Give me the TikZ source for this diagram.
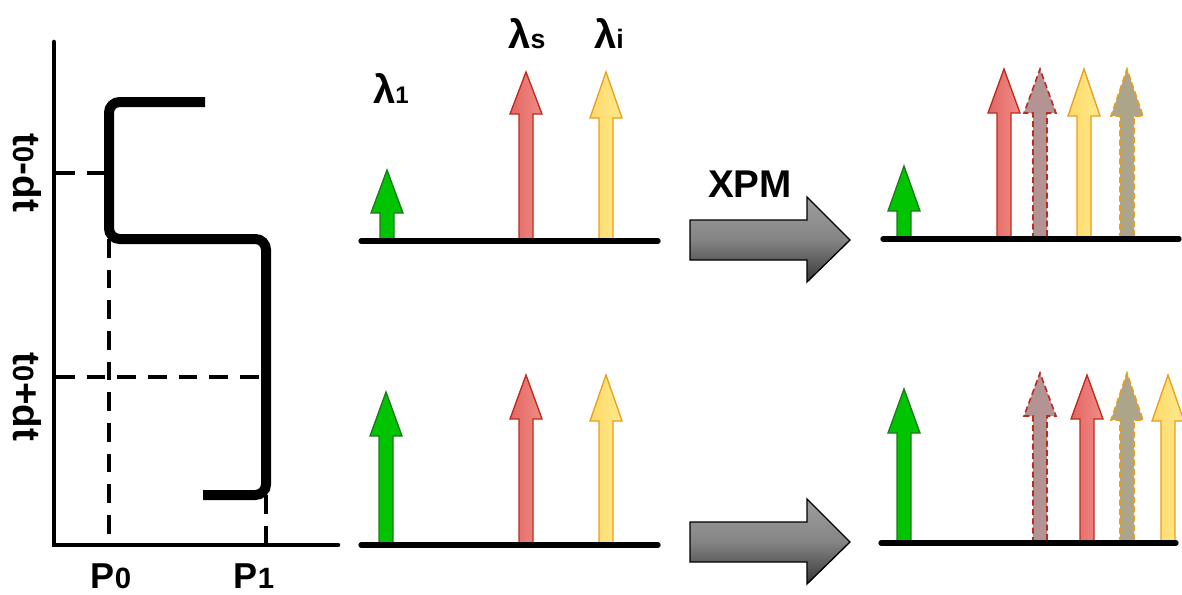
\documentclass[tikz,border=0pt]{standalone}
\usepackage{fontspec}
\setmainfont{Liberation Sans}
\definecolor{grnF}{HTML}{00C400}
\definecolor{grnD}{HTML}{1D7A1D}
\definecolor{redL}{HTML}{E36763}
\definecolor{redR}{HTML}{F08C87}
\definecolor{redD}{HTML}{BE2A1E}
\definecolor{yelL}{HTML}{FFD968}
\definecolor{yelR}{HTML}{FFEA8E}
\definecolor{yelD}{HTML}{E89E1E}
\definecolor{mauveF}{HTML}{B39393}
\definecolor{tanF}{HTML}{ACA58A}
\begin{document}
\begin{tikzpicture}[x=0.75pt,y=-0.75pt,
  axisline/.style={line width=3.4pt,line cap=round},
  curveline/.style={line width=7.5pt,rounded corners=8pt},
  guide/.style={line width=2.4pt,dash pattern=on 14pt off 9pt},
  baseln/.style={line width=4pt,line cap=round},
  lbl/.style={font=\bfseries\fontsize{23}{26}\selectfont,inner sep=0pt},
  grn/.style={fill=grnF,draw=grnD,line width=1pt},
  red/.style={left color=redL,right color=redR,draw=redD,line width=1pt},
  yel/.style={left color=yelL,right color=yelR,draw=yelD,line width=1pt},
  redd/.style={fill=mauveF,draw=redD,line width=1.2pt,dash pattern=on 4.5pt off 2.5pt},
  yeld/.style={fill=tanF,draw=yelD,line width=1.2pt,dash pattern=on 4.5pt off 2.5pt},
  bigarrow/.style={top color=black!38,bottom color=black!78,middle color=black!48,draw=black,line width=1pt}]
\useasboundingbox (0,0) rectangle (1182,594);
\newcommand\varrow[5]{%
  \draw[#1] ({#2-7},#3) -- ({#2-7},#5) -- ({#2-16},#5) -- (#2,#4) -- ({#2+16},#5) -- ({#2+7},#5) -- ({#2+7},#3) -- cycle;}
\newcommand\garrow[1]{%
  \draw[bigarrow] (690,{#1-20}) -- (807,{#1-20}) -- (807,{#1-43}) -- (850,#1) -- (807,{#1+42}) -- (807,{#1+20}) -- (690,{#1+20}) -- cycle;}

% ---------- left panel ----------
\coordinate (O) at (54,545);
\coordinate (ytop) at (54,42);
\coordinate (xend) at (338,545);
\draw[axisline] (ytop) -- (O) -- (xend);
\coordinate (c1) at (205,102);
\coordinate (c2) at (109,102);
\coordinate (c3) at (109,239);
\coordinate (c4) at (266,239);
\coordinate (c5) at (266,495);
\coordinate (c6) at (203,495);
\draw[guide] (56,173) -- (109,173);
\draw[guide] (c3) -- (109,545);
\draw[guide] (56,377) -- (266,377);
\draw[guide] (c5) -- (266,545);
\draw[curveline] (c1) -- (c2) -- (c3) -- (c4) -- (c5) -- (c6);
\node[lbl,font=\bfseries\fontsize{29}{32}\selectfont,rotate=-90] (tm) at (27,173) {t{\fontsize{22}{24}\selectfont 0}-dt};
\node[lbl,font=\bfseries\fontsize{29}{32}\selectfont,rotate=-90] (tp) at (27,397) {t{\fontsize{22}{24}\selectfont 0}+dt};
\node[lbl,font=\bfseries\fontsize{27}{30}\selectfont,anchor=base] (p0) at (111,588) {P{\fontsize{22}{24}\selectfont 0}};
\node[lbl,font=\bfseries\fontsize{27}{30}\selectfont,anchor=base] (p1) at (254,588) {P{\fontsize{22}{24}\selectfont 1}};

% ---------- middle panel ----------
\varrow{grn}{387}{240}{170}{213}
\varrow{red}{526}{240}{72}{114}
\varrow{yel}{606}{240}{72}{118}
\coordinate (b1l) at (361,241);
\coordinate (b1r) at (658,241);
\draw[baseln] (b1l) -- (b1r);
\node[lbl,font=\bfseries\fontsize{30}{32}\selectfont,anchor=base] (l1) at (391,103) {λ{\fontsize{18}{20}\selectfont 1}};
\node[lbl,font=\bfseries\fontsize{30}{32}\selectfont,anchor=base] (ls) at (527,48) {λ{\fontsize{20}{22}\selectfont s}};
\node[lbl,font=\bfseries\fontsize{30}{32}\selectfont,anchor=base] (li) at (609,48) {λ{\fontsize{20}{22}\selectfont i}};

\varrow{grn}{386}{544}{392}{436}
\varrow{red}{526}{544}{375}{419}
\varrow{yel}{606}{544}{375}{421}
\coordinate (b2l) at (361,545);
\coordinate (b2r) at (658,545);
\draw[baseln] (b2l) -- (b2r);

% ---------- XPM arrows ----------
\garrow{240}
\garrow{542}
\node[lbl,font=\bfseries\fontsize{29}{32}\selectfont] (xpm) at (750,184) {XPM};

% ---------- right panel ----------
\varrow{grn}{904}{239}{166}{211}
\varrow{red}{1004}{239}{69}{113}
\varrow{redd}{1040}{239}{69}{113}
\varrow{yel}{1084}{239}{69}{116}
\varrow{yeld}{1127}{239}{69}{116}
\coordinate (b3l) at (883,239);
\coordinate (b3r) at (1179,239);
\draw[baseln] (b3l) -- (b3r);

\varrow{grn}{904}{543}{389}{433}
\varrow{redd}{1040}{543}{373}{416}
\varrow{red}{1087}{543}{375}{419}
\varrow{yeld}{1127}{543}{373}{420}
\varrow{yel}{1168}{543}{375}{421}
\coordinate (b4l) at (881,543);
\coordinate (b4r) at (1176,543);
\draw[baseln] (b4l) -- (b4r);
\end{tikzpicture}
\end{document}
